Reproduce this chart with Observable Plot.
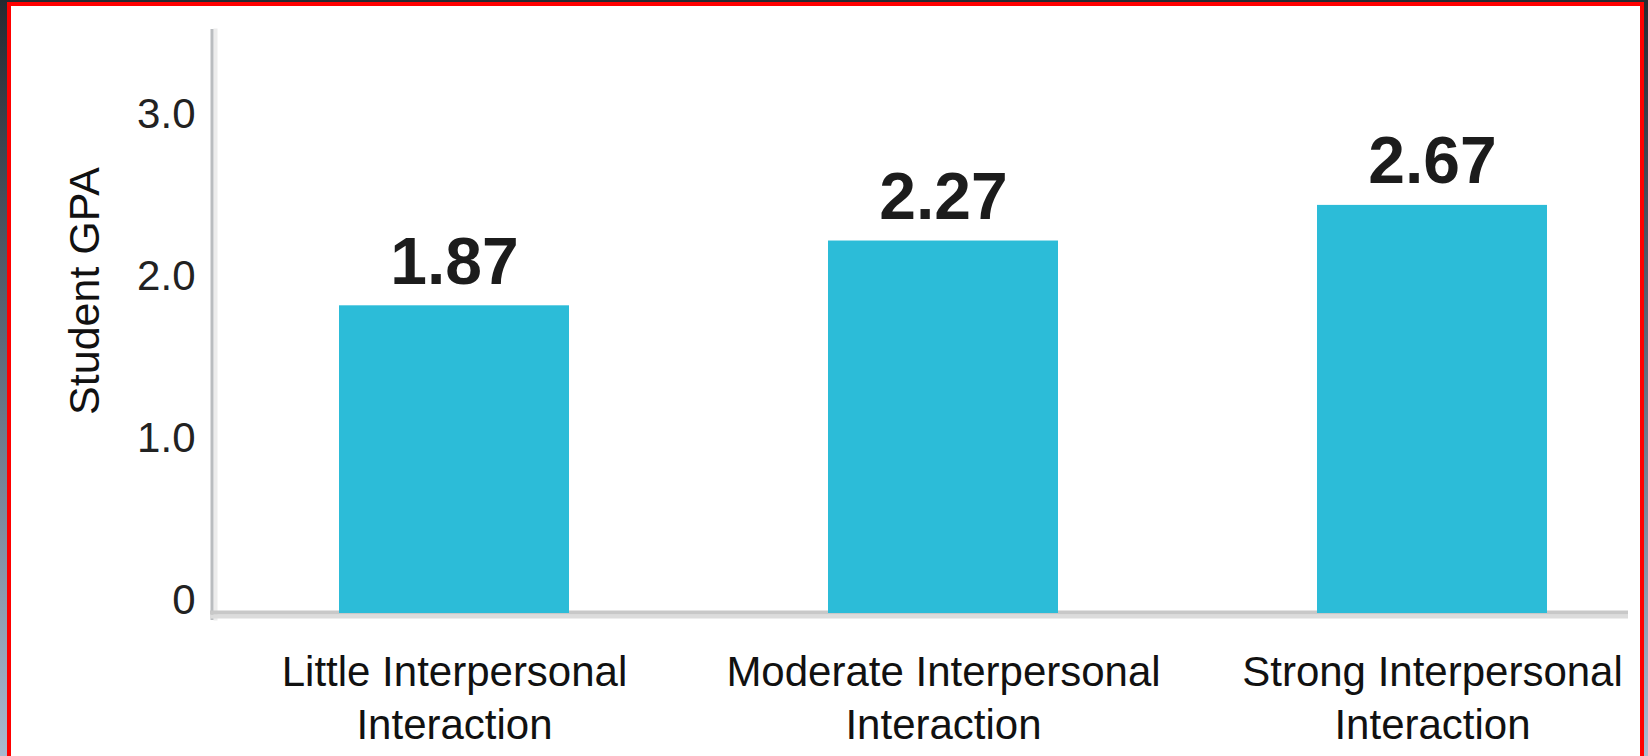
<!DOCTYPE html>
<html>
<head>
<meta charset="utf-8">
<script src="https://cdn.jsdelivr.net/npm/d3@7"></script>
<script src="https://cdn.jsdelivr.net/npm/@observablehq/plot@0.6"></script>
<style>
  html, body { margin: 0; padding: 0; }
  body {
    width: 1648px; height: 756px; overflow: hidden; position: relative;
    background: linear-gradient(to bottom, #262a31 0%, #5d6878 45%, #a9b9cf 100%);
  }
  #frame {
    position: absolute; left: 7px; top: 2px; width: 1637px; height: 800px;
    box-sizing: border-box; border: 4px solid #ff0000; background: #ffffff;
  }
  #chart { position: absolute; left: 0; top: 0; }
</style>
</head>
<body>
<div id="frame"></div>
<div id="chart"></div>
<script>
// ---- data ----
const categories = [
  "Little Interpersonal\nInteraction",
  "Moderate Interpersonal\nInteraction",
  "Strong Interpersonal\nInteraction"
];
const barHeights = [1.90, 2.30, 2.52];          // bar tops as drawn
const valueLabels = ["1.87", "2.27", "2.67"];   // printed numbers
const yTicks = [0, 1, 2, 3];
const yTickLabels = ["0", "1.0", "2.0", "3.0"];
const yTitle = "Student GPA";

const data = categories.map((c, i) => ({cat: c, h: barHeights[i], label: valueLabels[i]}));

const chart = Plot.plot({
  width: 1648,
  height: 756,
  marginLeft: 210,
  marginRight: 20,
  marginTop: 30,
  marginBottom: 143,
  style: {background: "transparent", fontFamily: "'Liberation Sans', Arial, sans-serif", fontSize: "42px"},
  x: {domain: categories, paddingInner: 0.5297, paddingOuter: 0.2146, align: 0.614},
  y: {domain: [0, 3.6]},
  marks: [
    Plot.frame({anchor: "left", stroke: "#ececec", strokeWidth: 4, dx: 5, insetBottom: -5}),
    Plot.frame({anchor: "left", stroke: "#b9bcbf", strokeWidth: 3, dx: 1.5, insetBottom: -5}),
    Plot.ruleY([0], {stroke: "#dcdcdc", strokeWidth: 4, dy: 3}),
    Plot.ruleY([0], {stroke: "#c8c8c8", strokeWidth: 4, dy: -1}),
    Plot.barY(data, {x: "cat", y: "h", fill: "#2cbcd8"}),
    Plot.text(data, {
      x: "cat", y: "h", text: "label", dy: -22, lineAnchor: "bottom",
      fontSize: 66, fontWeight: "bold", fill: "#1c1c1c"
    }),
    Plot.axisY({
      ticks: yTicks, tickFormat: (d) => yTickLabels[yTicks.indexOf(d)],
      tickSize: 0, tickPadding: 15, fontSize: 42, fill: "#222", dy: -13.4, label: null
    }),
    Plot.axisX({
      tickSize: 0, tickPadding: 35, fontSize: 42, lineHeight: 1.262, fill: "#111", label: null
    }),
    Plot.text([yTitle], {
      text: (d) => d, frameAnchor: "left", textAnchor: "middle", rotate: -90, lineAnchor: "bottom",
      dx: -112, dy: -31, fontSize: 43, fill: "#111"
    })
  ]
});
document.getElementById("chart").appendChild(chart);
</script>
</body>
</html>
